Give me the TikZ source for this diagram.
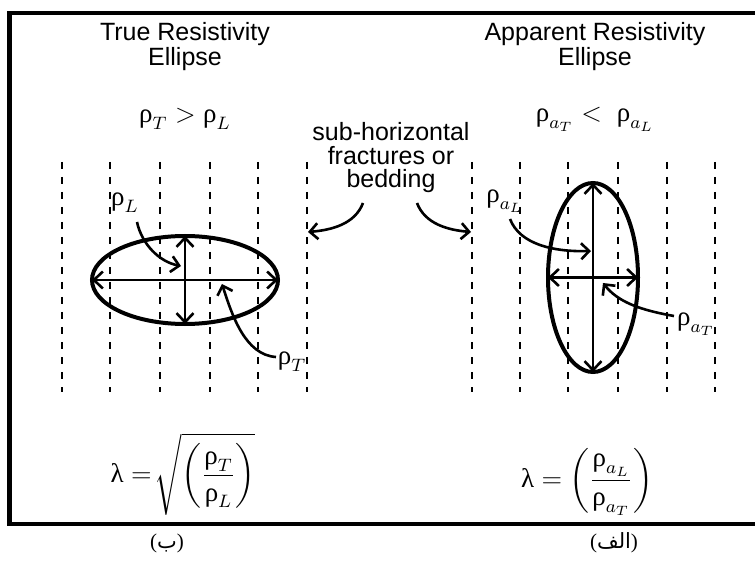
\documentclass[tikz,border=0pt]{standalone}
\usepackage{amsmath}
\usepackage{fontspec}
\setmainfont{Liberation Sans}
\newfontfamily\grfont{Liberation Serif}
\newfontfamily\arabicfont[Script=Arabic]{DejaVu Sans}
\TeXXeTstate=1
\usetikzlibrary{arrows.meta}
\newcommand{\rr}{\mbox{\grfont ρ}}
\newcommand{\lam}{\mbox{\grfont λ}}
\tikzset{
  frameline/.style={line width=4.5pt},
  fracture/.style={line width=2pt, dash pattern=on 7pt off 8pt},
  ellipseline/.style={line width=4pt},
  axis/.style={line width=2.6pt, {Straight Barb[length=9pt,width=17pt,line width=2.6pt]}-{Straight Barb[length=9pt,width=17pt,line width=2.6pt]}},
  pointer/.style={line width=2.6pt, -{Straight Barb[length=8pt,width=16pt,line width=2.6pt]}},
  title/.style={font=\fontsize{25}{25}\selectfont, align=center, inner sep=0pt},
  mathlbl/.style={font=\fontsize{12}{14}\selectfont, inner sep=0pt, scale=2.25, transform shape},
  formula/.style={font=\fontsize{12}{14}\selectfont, inner sep=0pt, scale=2.25, transform shape},
  arlbl/.style={font=\fontsize{21}{24}\selectfont, inner sep=0pt}
}
\begin{document}
\begin{tikzpicture}[x=1pt,y=-1pt]
\useasboundingbox (0,0) rectangle (755,561);
% frame
\draw[frameline] (755,13) -- (9.5,13) -- (9.5,524) -- (755,524);
% titles
\node[title] (t1) at (185,47) {True Resistivity\\Ellipse};
\node[title] (t2) at (595,47) {Apparent Resistivity\\Ellipse};
% relations
\node[mathlbl] (r1) at (185,119) {$\rr_{T} > \rr_{L}$};
\node[mathlbl] (r2) at (595,119) {$\rr_{a_T} <\; \rr_{a_L}$};
% middle text
\node[font=\fontsize{25}{23.5}\selectfont, align=center, inner sep=0pt] (mid) at (391,158) {sub-horizontal\\fractures or\\bedding};
% dashed lines
\foreach \x in {62,110,160,210,258,307,472,520,568,618,667,715}
  \draw[fracture] (\x,162) -- (\x,392);
% left ellipse
\coordinate (lc) at (185,280);
\draw[ellipseline] (lc) ellipse [x radius=93, y radius=44];
\coordinate (lw) at (92,280);
\coordinate (le) at (278,280);
\coordinate (ln) at (185,236);
\coordinate (ls) at (185,324);
\draw[axis] (lw) -- (le);
\draw[axis] (ln) -- (ls);
% right ellipse
\coordinate (rc) at (593,277.5);
\draw[ellipseline] (rc) ellipse [x radius=45, y radius=94.5];
\coordinate (rw) at (548,277.5);
\coordinate (re) at (638,277.5);
\coordinate (rn) at (593,183);
\coordinate (rs) at (593,372);
\draw[axis] (rw) -- (re);
\draw[axis] (rn) -- (rs);
% labels on left ellipse
\node[mathlbl] (rl) at (125,203) {$\rr_{L}$};
\coordinate (rlTip) at (181,266);
\draw[pointer] (137,222) .. controls (142,245) and (160,262) .. (rlTip);
\node[mathlbl] (rt) at (292,362) {$\rr_{T}$};
\coordinate (rtTip) at (222,284);
\draw[pointer] (276,357) .. controls (245,355) and (232,315) .. (rtTip);
% labels on right ellipse
\node[mathlbl] (ral) at (505,201) {$\rr_{a_L}$};
\coordinate (ralTip) at (591,251);
\draw[pointer] (510,219) .. controls (520,245) and (555,252) .. (ralTip);
\node[mathlbl] (rat) at (696,324) {$\rr_{a_T}$};
\coordinate (ratTip) at (603,283);
\draw[pointer] (674,316) .. controls (640,310) and (618,302) .. (ratTip);
% fracture pointers
\coordinate (fl) at (308,232);
\coordinate (fr) at (471,232);
\draw[pointer] (363,203) .. controls (355,224) and (332,230) .. (fl);
\draw[pointer] (417,203) .. controls (425,224) and (448,230) .. (fr);
% formulas
\node[formula] (f1) at (183,474) {$\lam =\!\sqrt{\left(\dfrac{\rr_{T}}{\rr_{L}}\right)}$};
\node[formula] (f2) at (587,482) {$\lam = \left(\dfrac{\rr_{a_L}}{\rr_{a_T}}\right)$};
% captions
\node[arlbl] (c1) at (167,543) {\grfont(\arabicfont\beginR ب\endR\grfont)};
\node[arlbl] (c2) at (614,543) {\grfont(\arabicfont\beginR الف\endR\grfont)};
\end{tikzpicture}
\end{document}
